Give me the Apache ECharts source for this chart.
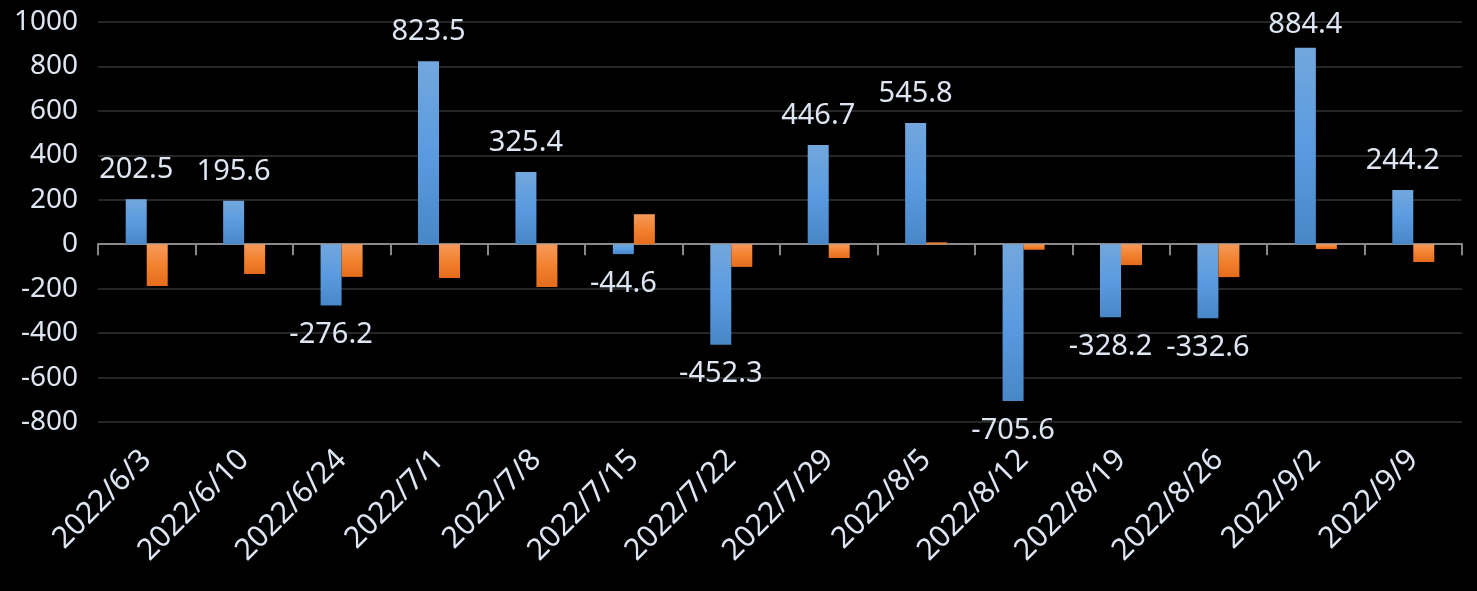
<!DOCTYPE html>
<html>
<head>
<meta charset="utf-8">
<script src="https://cdn.jsdelivr.net/npm/echarts@6/dist/echarts.min.js"></script>
<style>
html,body{margin:0;padding:0;background:#000;}
#chart{width:1477px;height:591px;}
</style>
</head>
<body>
<div id="chart"></div>
<script>
const categories = ['2022/6/3','2022/6/10','2022/6/24','2022/7/1','2022/7/8','2022/7/15','2022/7/22','2022/7/29','2022/8/5','2022/8/12','2022/8/19','2022/8/26','2022/9/2','2022/9/9'];
const blueValues = [202.5,195.6,-276.2,823.5,325.4,-44.6,-452.3,446.7,545.8,-705.6,-328.2,-332.6,884.4,244.2];
const orangeValues = [-188,-134,-147,-152,-192,135,-102,-62,8,-25,-94,-148,-22,-80];
const yTicks = {min:-800, max:1000, interval:200};

const textColor = '#dde6f2';
const fontFamily = '"Noto Sans", "Open Sans", sans-serif';

const chart = echarts.init(document.getElementById('chart'));
chart.setOption({
  backgroundColor:'#000',
  animation:false,
  grid:{left:98, right:15, top:22, bottom:169, containLabel:false},
  xAxis:[{
    type:'category', data:categories, position:'bottom',
    axisLine:{show:false, onZero:false}, axisTick:{show:false},
    axisLabel:{interval:0, rotate:45, color:textColor, fontSize:30, fontFamily:fontFamily, margin:33}
  },{
    type:'category', data:categories, position:'top',
    axisLine:{show:true, onZero:true, lineStyle:{color:'#898989', width:2}},
    axisTick:{show:true, inside:true, length:11, lineStyle:{color:'#898989', width:2}},
    axisLabel:{show:false}
  }],
  yAxis:{
    type:'value', min:yTicks.min, max:yTicks.max, interval:yTicks.interval,
    axisLine:{show:false}, axisTick:{show:false},
    splitLine:{lineStyle:{color:'#262626', width:2}},
    axisLabel:{color:textColor, fontSize:28, fontFamily:fontFamily, margin:20, formatter:v=>String(v)}
  },
  series:[{
    type:'bar', xAxisIndex:0, barWidth:21, barGap:'0%',
    data:blueValues.map(v=>({value:v, label:{position: v>=0?'top':'bottom'}})),
    itemStyle:{color:new echarts.graphic.LinearGradient(0,0,0,1,[
      {offset:0,color:'#72a7dd'},{offset:0.5,color:'#5a9be0'},{offset:1,color:'#4887c7'}])},
    label:{show:true, color:textColor, fontSize:29, fontFamily:fontFamily, distance:15},
    labelLayout:function(p){ return {dy: Math.max(0, 10 - p.labelRect.y)}; }
  },{
    type:'bar', xAxisIndex:0, barWidth:21, barGap:'0%',
    data:orangeValues,
    itemStyle:{color:new echarts.graphic.LinearGradient(0,0,0,1,[
      {offset:0,color:'#f6995a'},{offset:0.5,color:'#f2822f'},{offset:1,color:'#e56c1c'}])}
  }]
});
</script>
</body>
</html>
